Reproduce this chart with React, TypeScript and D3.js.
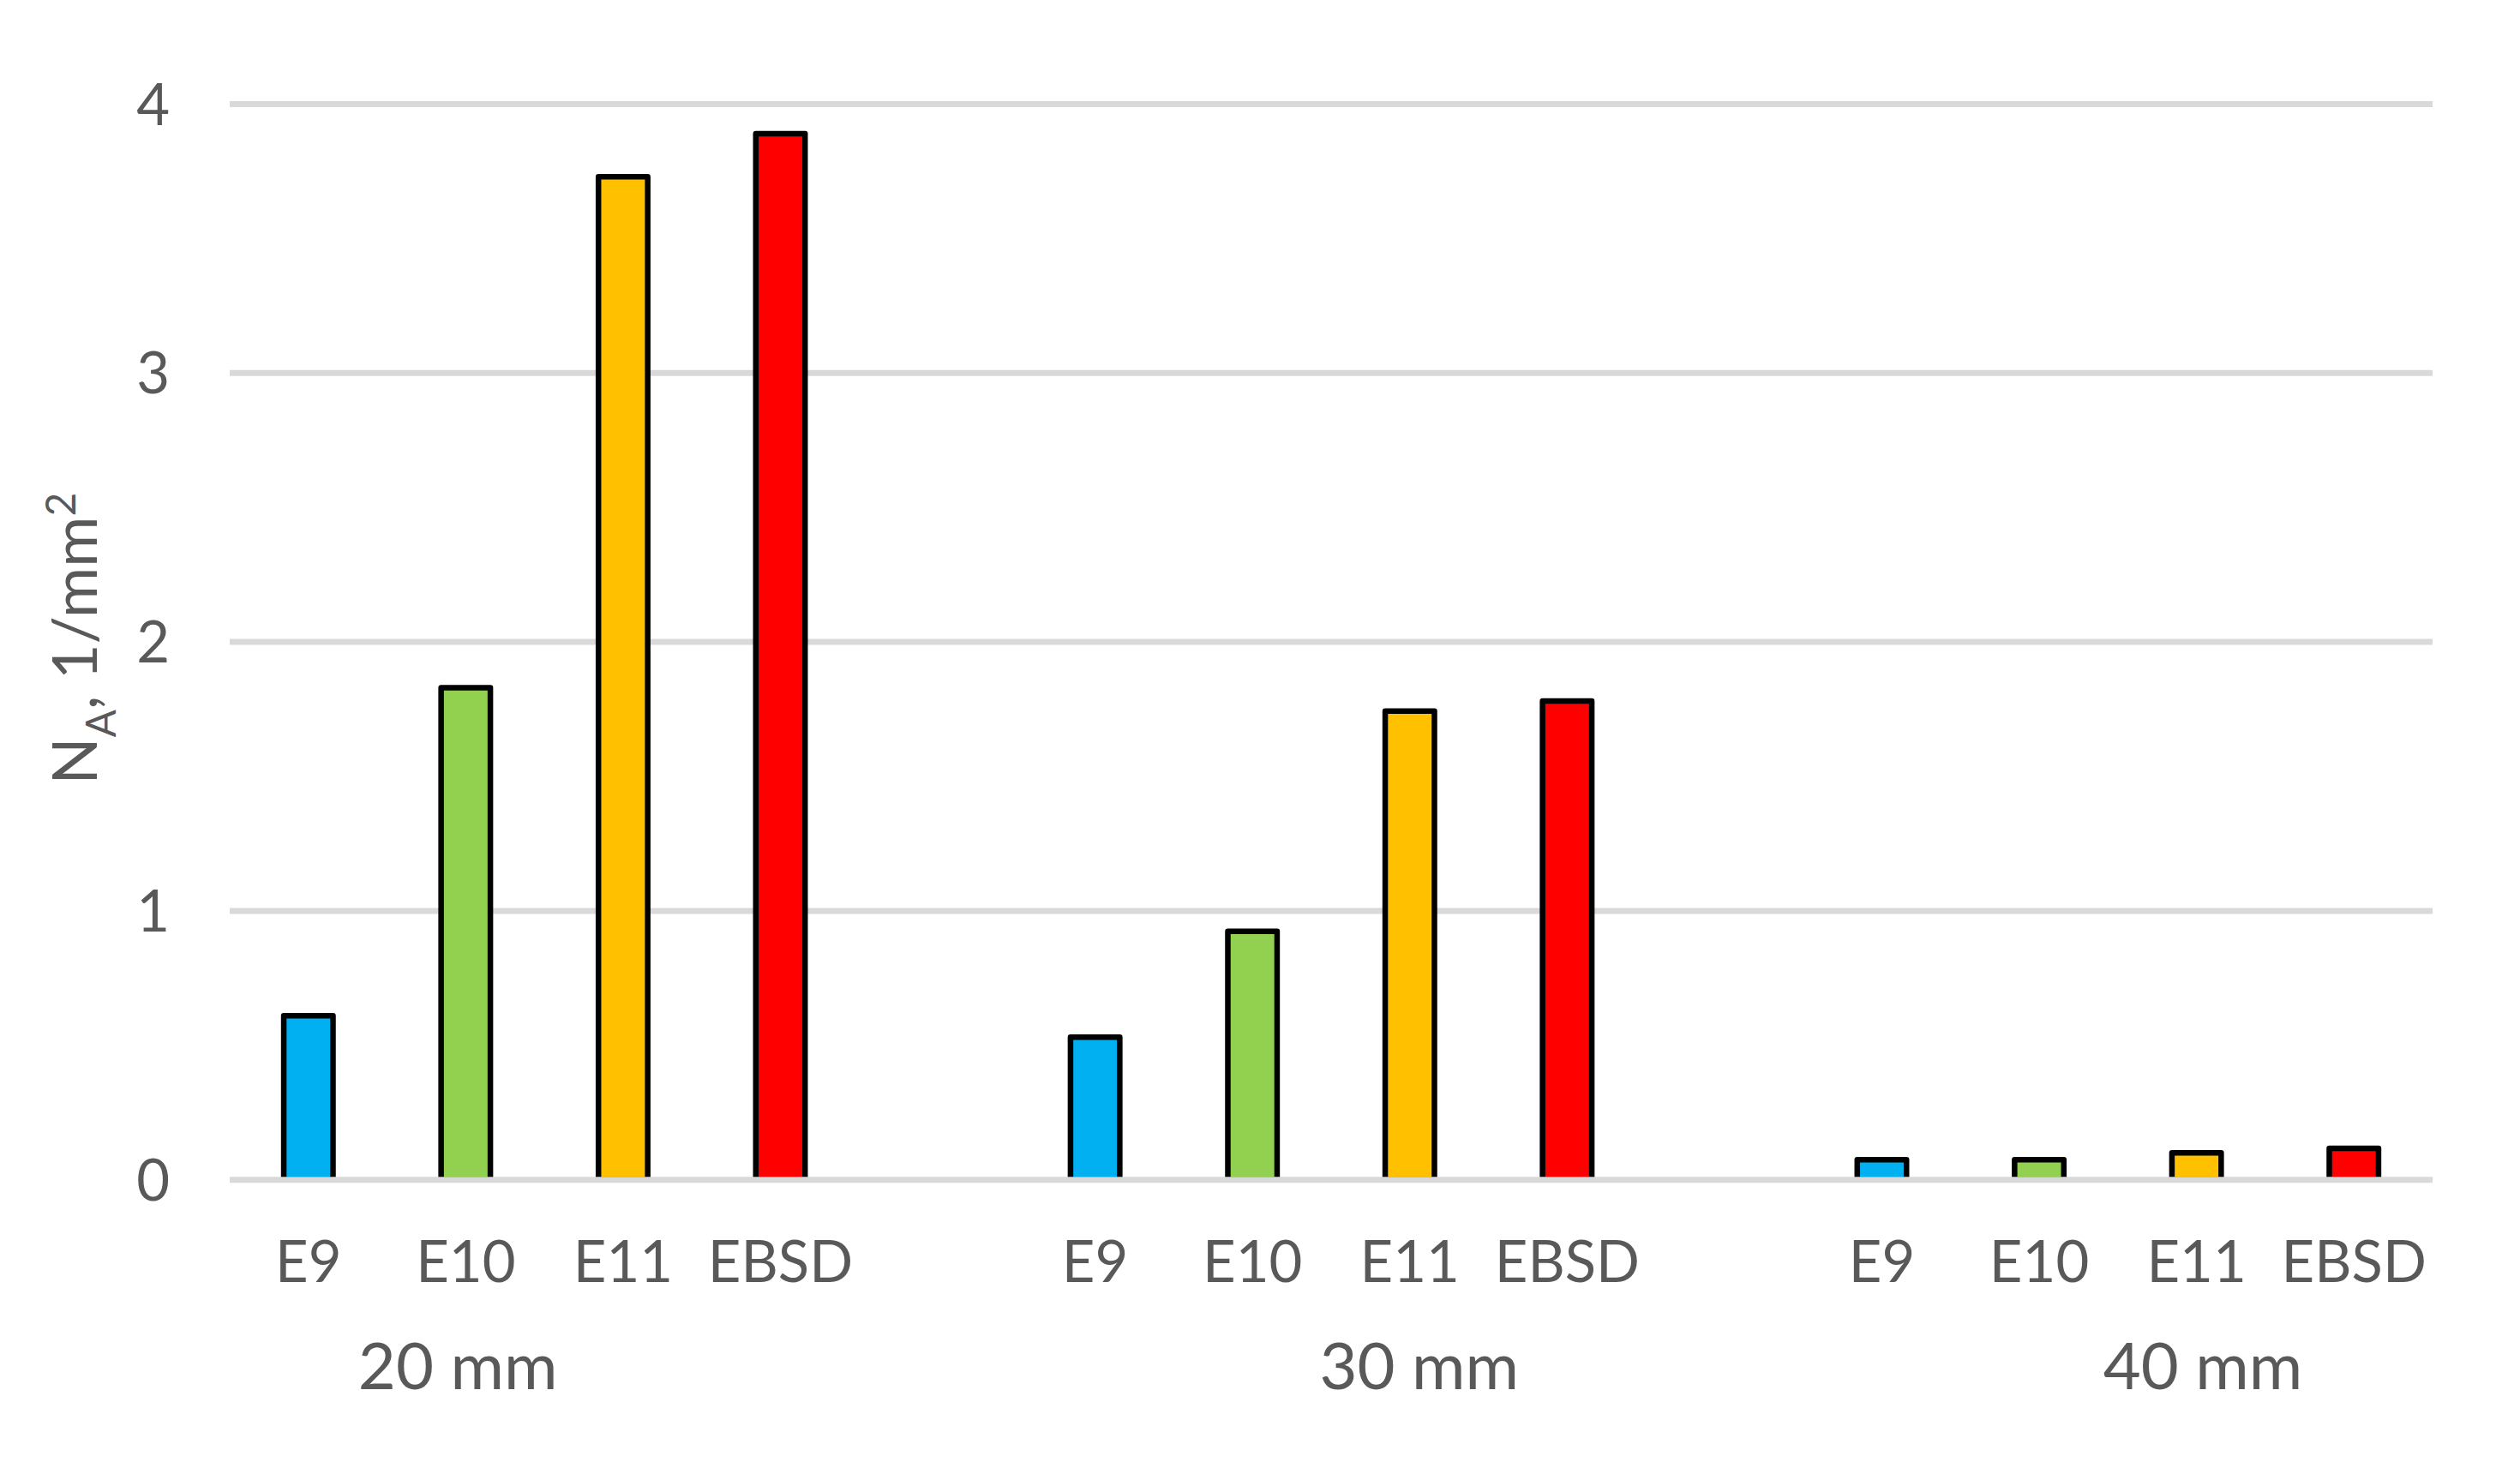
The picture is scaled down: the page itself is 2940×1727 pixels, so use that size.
import * as d3 from 'd3';

// chart values
const groups = ['20 mm', '30 mm', '40 mm'];
const methods = ['E9', 'E10', 'E11', 'EBSD'];
const values20 = [0.61, 1.83, 3.73, 3.89];
const values30 = [0.53, 0.924, 1.743, 1.78];
const values40 = [0.075, 0.075, 0.1, 0.117];
const yTicks = [0, 1, 2, 3, 4];
const methodColors = ['#00b0f0', '#92d050', '#ffc000', '#ff0000'];

const W = 2940;
const H = 1727;
const left = 268;
const right = 2838;
const top = 121.4;
const bottom = 1376.7;
const textColor = '#595959';
const gridColor = '#d9d9d9';
const font = 'Lato, "Open Sans", sans-serif';

// where the group captions sit, in category steps from the left of the plot
const groupLabelAt = [1.45, 7.56, 12.54];

export default function App() {
    const allValues = [values20, values30, values40];

    // one slot per bar, plus an empty slot between groups
    const slots: { key: string; label: string; value: number | null; color: string }[] = [];
    groups.forEach((g, gi) => {
        methods.forEach((m, mi) => {
            slots.push({ key: g + '|' + m, label: m, value: allValues[gi][mi], color: methodColors[mi] });
        });
        if (gi < groups.length - 1) {
            slots.push({ key: 'gap' + gi, label: '', value: null, color: 'none' });
        }
    });

    const x = d3.scaleBand<string>()
        .domain(slots.map(d => d.key))
        .range([left, right])
        .paddingInner(0.687)
        .paddingOuter(0.687 / 2);

    const y = d3.scaleLinear()
        .domain([0, 4])
        .range([bottom, top]);

    const bars = slots.filter(d => d.value !== null);

    return (
        <>
            <style>{'body{margin:0}'}</style>
            <svg width={W} height={H} style={{ display: 'block', background: '#fff' }}>
                {/* gridlines */}
                {yTicks.filter(t => t !== 0).map(t => (
                    <line key={'g' + t} x1={left} x2={right} y1={y(t)} y2={y(t)}
                        stroke={gridColor} strokeWidth={7} />
                ))}

                {/* bars */}
                {bars.map(d => (
                    <rect key={d.key}
                        x={x(d.key)}
                        y={y(d.value as number)}
                        width={x.bandwidth()}
                        height={y(0) - y(d.value as number)}
                        fill={d.color}
                        stroke="#000"
                        strokeWidth={6.5}
                        strokeLinejoin="round" />
                ))}

                {/* category axis line */}
                <line x1={left} x2={right} y1={y(0)} y2={y(0)} stroke={gridColor} strokeWidth={7} />

                {/* y tick labels */}
                {yTicks.map(t => (
                    <text key={'t' + t} x={198} y={y(t)} dy="0.36em" textAnchor="end"
                        fontFamily={font} fontSize={67} fill={textColor}>{t}</text>
                ))}

                {/* x tick labels */}
                {bars.map(d => (
                    <text key={'l' + d.key} x={(x(d.key) as number) + x.bandwidth() / 2} y={1496}
                        textAnchor="middle" fontFamily={font} fontSize={67} fill={textColor}>{d.label}</text>
                ))}

                {/* group labels */}
                {groups.map((g, i) => (
                    <text key={g} x={left + groupLabelAt[i] * x.step()} y={1621}
                        textAnchor="middle" fontFamily={font} fontSize={76} fill={textColor}>{g}</text>
                ))}

                {/* y axis title */}
                <text transform={`translate(113, ${(top + bottom) / 2 - 4}) rotate(-90)`}
                    textAnchor="middle" fontFamily={font} fontSize={72} fill={textColor}>
                    <tspan>N</tspan>
                    <tspan fontSize={48} dy={22}>A</tspan>
                    <tspan dy={-22}>, 1/mm</tspan>
                    <tspan fontSize={48} dy={-25}>2</tspan>
                </text>
            </svg>
        </>
    );
}
